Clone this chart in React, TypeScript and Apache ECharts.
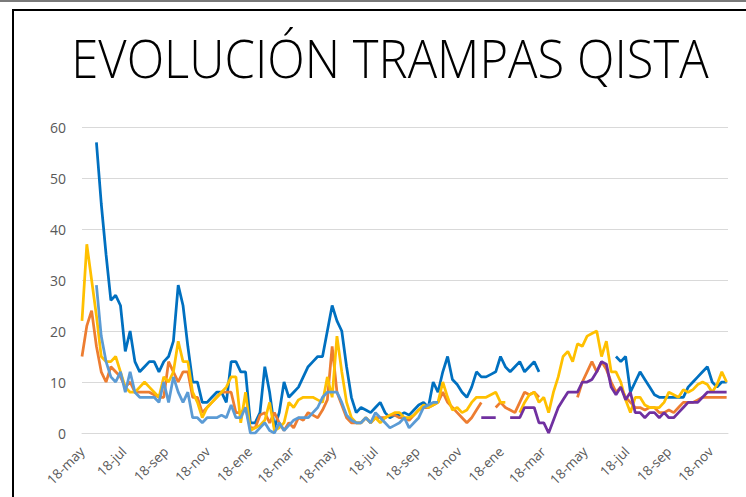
import React, { useEffect, useRef } from 'react';
import * as echarts from 'echarts';

// X axis: one point per week starting 18-may; tick every 61 days (2 months)
const tickLabels = ['18-may', '18-jul', '18-sep', '18-nov', '18-ene', '18-mar', '18-may', '18-jul', '18-sep', '18-nov', '18-ene', '18-mar', '18-may', '18-jul', '18-sep', '18-nov'];
const DAYS_PER_POINT = 7;
const TICK_DAYS = 61;
const AXIS_MAX_DAYS = 940;

const seriesNames = ['Trampa 1', 'Trampa 2', 'Trampa 3', 'Trampa 4', 'Trampa 5'];
const seriesColors = ['#0070C0', '#ED7D31', '#FFC000', '#5B9BD5', '#7030A0'];

const _ = null;

const trampa1 = [
  _, _, _, 57, 45, 35, 26, 27, 25, 16, 20, 14, 12, 13, 14, 14, 12, 14, 15, 18,
  29, 25, 17, 10, 10, 6, 6, 7, 8, 8, 6, 14, 14, 12, 12, 2, 2, 4, 13, 8,
  1, 4, 10, 7, 8, 9, 11, 13, 14, 15, 15, 20, 25, 22, 20, 13, 7, 4, 5, 4.5,
  4, 5, 6, 4, 3, 3.5, 3.5, 4, 3.5, 4.5, 5.5, 6, 5, 10, 8, 12, 15, 10.5, 9.5, 8,
  7, 9, 12, 11, 11, 11.5, 12, 15, 13, 12, 13, 14, 12, 13, 14, 12, _, _, _, _,
  _, _, _, _, _, _, _, _, _, _, _, 15, 14, 15, 8, 10, 12, 10.5, 9, 7.5,
  7, 7, 7, 7, 7, 7, 9, 10, 11, 12, 13, 10, 9, 10, 10,
];

const trampa2 = [
  15, 21, 24, 17, 12, 10, 13, 12, 11, 9, 10, 8, 8, 8, 8, 7.5, 7, 7, 14, 12,
  10, 12, 12, 7, 7, 4, 5, 6, 7, 8, 8, 8, 4, 4, 5, 1, 1, 3.5, 4, 2,
  4, 2, 0.5, 2, 1, 3, 2.5, 4, 3.5, 3, 4.5, 6.5, 17, 8, 5.5, 3, 2, 2, 2, 3,
  2, 3, 3, 3, 3.5, 3.5, 3, 3, 2.5, 3.5, 4.5, 5, 5, 5.5, 6, 8, 6, 5, 4, 3,
  2, 3, 4.5, 6, _, _, 5, 6, 5, 4.5, 4, 6, 8, 7.5, 8, 7, _, _, _, _,
  _, _, _, 7, 10, 12, 14, 12, 14, 12.5, 10, 8, 9, 7, 6, 5, 5, 4.5, 5, 5,
  4, 4, 4.5, 4, 5, 6, 6, 6, 6.5, 7, 7, 7, 7, 7, 7,
];

const trampa3 = [
  22, 37, 30, 23, 15, 14, 14, 15, 12, 9, 8, 8, 9, 10, 9, 8, 7, 11, 10, 12,
  18, 14, 14, 8, 6, 3, 5, 6, 7, 8, 9, 11, 11, 2, 8, 0.5, 1, 1.5, 2.5, 6,
  0.5, 1, 2, 6, 5, 6.5, 7, 7, 7, 6.5, 6, 11, 7, 19, 12, 6, 3, 2, 2, 3,
  2, 3, 2, 3, 3.5, 4, 4, 3, 3, 3.5, 4.5, 5.5, 5, 5.5, 6, 10, 7, 4.5, 5, 4,
  4.5, 6, 7, 7, 7, 7.5, 8, 6, 6, _, _, 4, 6, 7.5, 8, 6, 7, 4, 8, 11,
  15, 16, 14, 17.5, 17, 19, 19.5, 20, 15, 18, 12, 12, 10, 6.5, 4, 7, 7, 5.5, 5, 5,
  5, 6, 8, 7.5, 7, 8.5, 8, 8.5, 9.5, 10, 9.5, 8, 9.5, 12, 10,
];

const trampa4 = [
  _, _, _, 29, 19, 14, 11, 10, 12, 8, 12, 8, 7, 7, 7, 7, 6, 10, 6, 11,
  8, 6, 8, 3, 3, 2, 3, 3, 3, 3.5, 3, 5.5, 3, 3, 5, 0, 0, 1, 2, 0.5,
  0, 2, 0.5, 1.5, 2.5, 3, 3, 3, 4, 5, 7, 8, 8, 8, 6, 3.5, 2.5, 2, 2, 3,
  2, 4, 3, 2, 1, 1.5, 2, 3, 1, 2, 3, 5, 5.5, 6, 6, _, _, _, _, _,
  _, _, _, _, _, _, _, _, _, _, _, _, _, _, _, _, _, _, _, _,
  _, _, _, _, _, _, _, _, _, _, _, _, _, _, _, _, _, _, _, _,
  _, _, _, _, _, _, _, _, _, _, _, _, _, _, _,
];

const trampa5 = [
  _, _, _, _, _, _, _, _, _, _, _, _, _, _, _, _, _, _, _, _,
  _, _, _, _, _, _, _, _, _, _, _, _, _, _, _, _, _, _, _, _,
  _, _, _, _, _, _, _, _, _, _, _, _, _, _, _, _, _, _, _, _,
  _, _, _, _, _, _, _, _, _, _, _, _, _, _, _, _, _, _, _, _,
  _, _, _, 3, 3, 3, 3, _, _, 3, 3, 3, 5, 5, 5, 2, 2, 0, 2.5, 5,
  6.5, 8, 8, 8, 10, 10, 10.5, 12, 14, 13.5, 9, 7.5, 9, 6.5, 8, 4, 4, 3, 4, 4,
  3, 4, 3, 3, 4, 5, 6, 6, 6, 7, 8, 8, 8, 8, 8,
];

const allSeries = [trampa1, trampa2, trampa3, trampa4, trampa5];

const FONT = '"Open Sans", "Noto Sans", sans-serif';

export default function App() {
  const ref = useRef<HTMLDivElement>(null);

  useEffect(() => {
    if (!ref.current) return;
    const chart = echarts.init(ref.current, null, { renderer: 'svg' });
    const option = {
      animation: false,
      backgroundColor: '#ffffff',
      grid: { left: 82, right: 18, top: 127, bottom: 64, containLabel: false },
      graphic: [
        { type: 'rect', shape: { x: 0, y: 0, width: 746, height: 2 }, style: { fill: '#7a7a7a' }, silent: true },
        { type: 'line', shape: { x1: 13, y1: 10, x2: 746, y2: 10 }, style: { stroke: '#000', lineWidth: 2 }, silent: true },
        { type: 'line', shape: { x1: 13, y1: 9, x2: 13, y2: 497 }, style: { stroke: '#000', lineWidth: 2 }, silent: true },
        {
          type: 'text',
          x: 390,
          y: 57,
          scaleX: 0.925,
          silent: true,
          style: {
            text: 'EVOLUCIÓN TRAMPAS QISTA',
            fill: '#000',
            font: '300 53px ' + FONT,
            textAlign: 'center',
            textVerticalAlign: 'middle',
          },
        },
      ],
      xAxis: {
        type: 'value',
        min: 0,
        max: AXIS_MAX_DAYS,
        interval: TICK_DAYS,
        axisLine: { show: true, lineStyle: { color: '#d9d9d9', width: 1 } },
        axisTick: { show: false },
        splitLine: { show: false },
        axisLabel: {
          rotate: 45,
          margin: 16,
          color: '#595959',
          fontSize: 13.5,
          fontFamily: FONT,
          showMaxLabel: false,
          formatter: (v: number) => (v % TICK_DAYS === 0 ? tickLabels[v / TICK_DAYS] ?? '' : ''),
        },
      },
      yAxis: {
        type: 'value',
        min: 0,
        max: 60,
        interval: 10,
        axisLine: { show: false },
        axisTick: { show: false },
        splitLine: { lineStyle: { color: '#d9d9d9', width: 1 } },
        axisLabel: { color: '#595959', fontSize: 14, margin: 16, fontFamily: FONT },
      },
      series: allSeries.map((vals, k) => ({
        name: seriesNames[k],
        type: 'line',
        symbol: 'none',
        showSymbol: false,
        connectNulls: false,
        silent: true,
        lineStyle: { color: seriesColors[k], width: 2.75 },
        itemStyle: { color: seriesColors[k] },
        data: vals.map((v, i) => [i * DAYS_PER_POINT, v]),
      })),
    };
    chart.setOption(option as any);
    return () => chart.dispose();
  }, []);

  return (
    <div
      ref={ref}
      style={{ position: 'absolute', left: 0, top: 0, width: 746, height: 497 }}
    />
  );
}
